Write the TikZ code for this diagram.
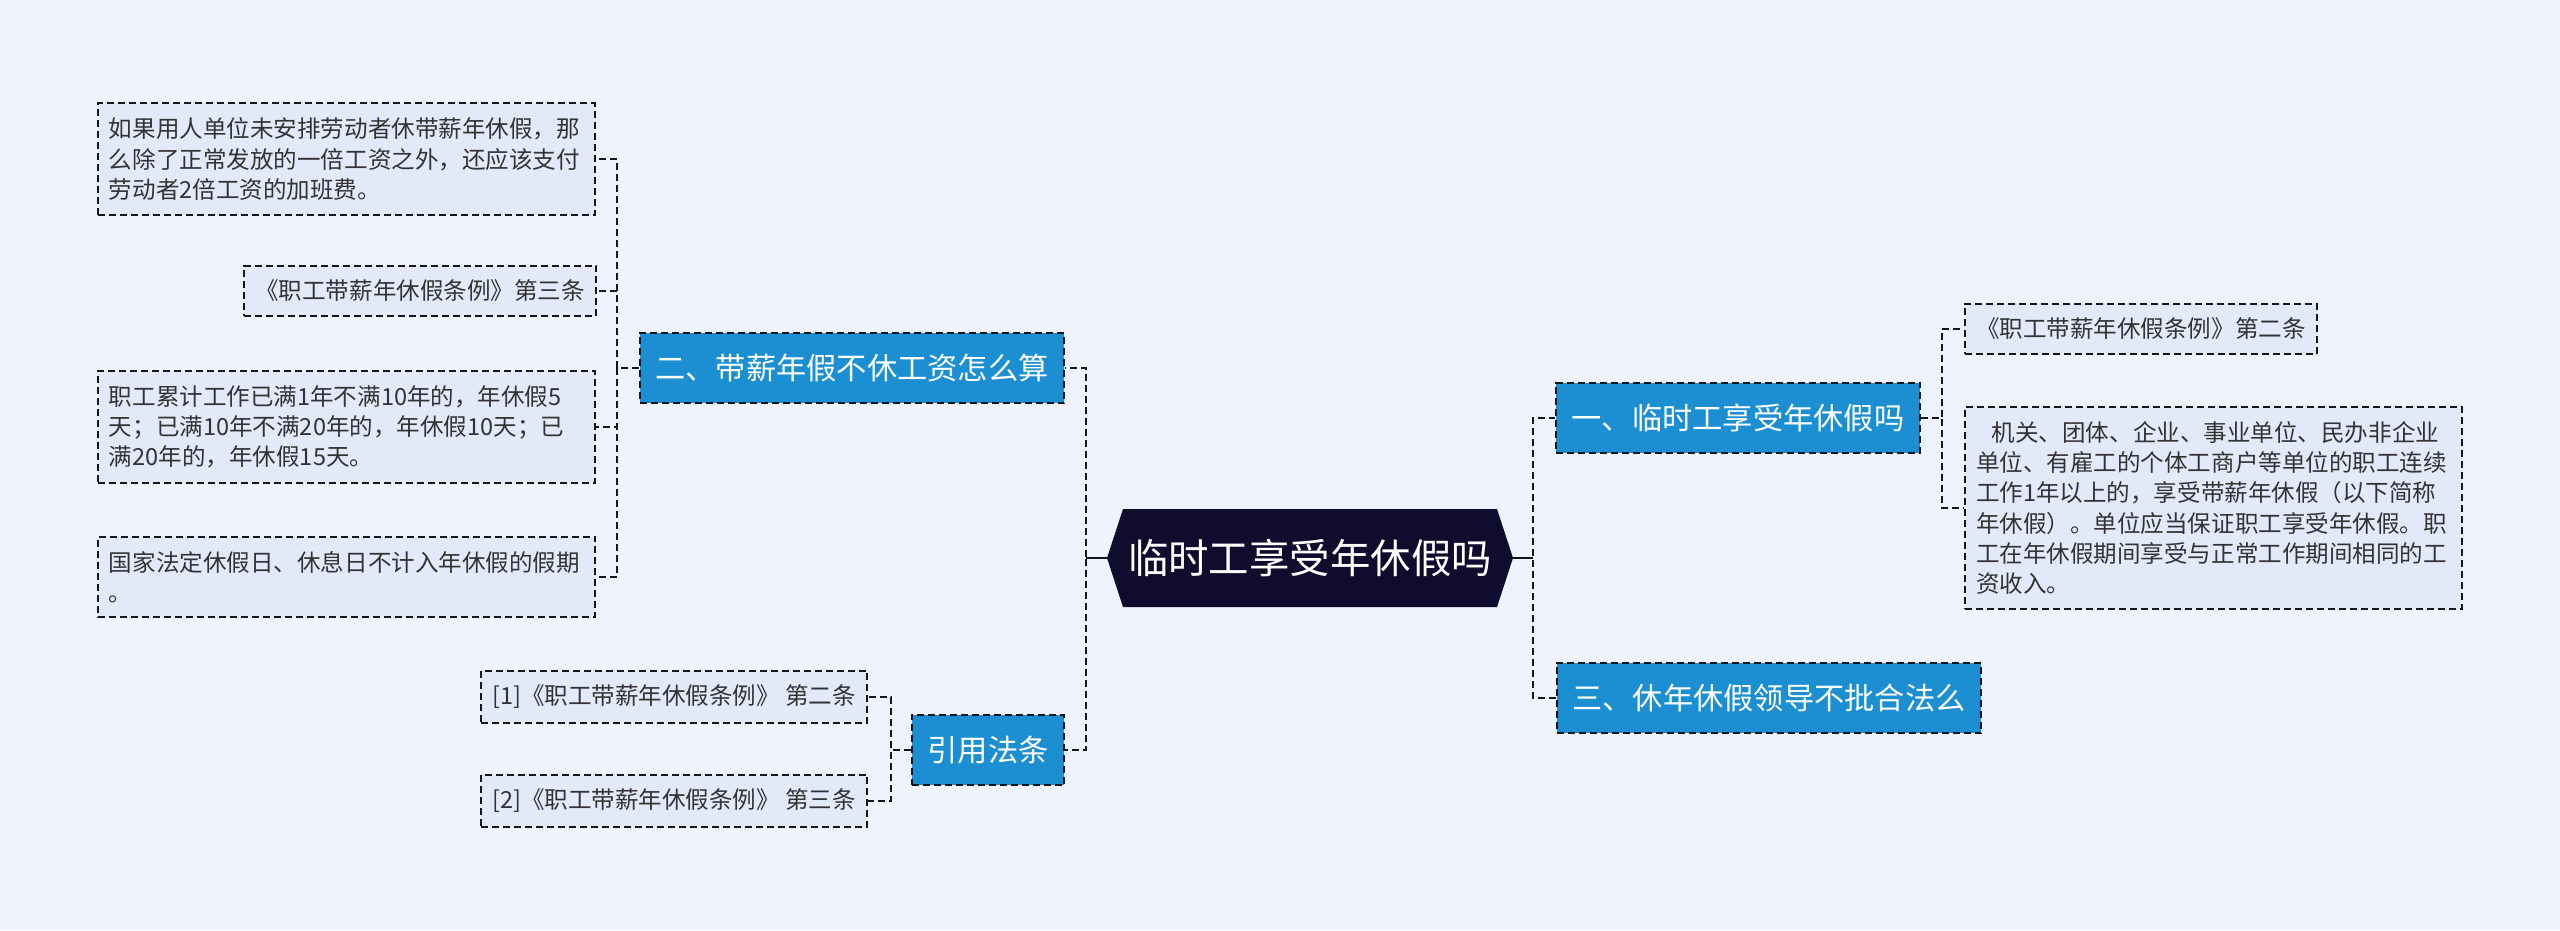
\documentclass[tikz,border=0pt]{standalone}
\usepackage{fontspec}
\setmainfont{Noto Sans CJK SC}

\definecolor{bgblue}{HTML}{EEF3FD}
\definecolor{leaffill}{HTML}{E2EAFA}
\definecolor{topicblue}{HTML}{1B8FD2}
\definecolor{rootnavy}{HTML}{0F0C2E}
\definecolor{linedark}{HTML}{15151C}

\begin{document}
\begin{tikzpicture}[
x=0.2mm, y=-0.2mm,
rootnode/.style={
  text=white, font=\fontsize{23}{28}\selectfont,
  minimum width=81.2mm, minimum height=19.6mm,
  path picture={
    \fill[rootnavy] (path picture bounding box.west)
      -- ([xshift=3.2mm]path picture bounding box.north west)
      -- ([xshift=-3.2mm]path picture bounding box.north east)
      -- (path picture bounding box.east)
      -- ([xshift=-3.2mm]path picture bounding box.south east)
      -- ([xshift=3.2mm]path picture bounding box.south west) -- cycle;
    }
  },
topic/.style={
  fill=topicblue, draw=linedark, line width=0.4mm,
  dash pattern=on 1.4mm off 0.8mm, text=white,
  font=\fontsize{17.2}{21}\selectfont,
  minimum height=14mm, inner xsep=3.2mm, inner ysep=0pt
  },
leaf/.style={
  fill=leaffill, draw=linedark, line width=0.4mm,
  dash pattern=on 1.4mm off 0.8mm, text=black!80,
  font=\fontsize{13.4}{17.2}\selectfont,
  align=left, inner xsep=2.2mm, inner ysep=2.9mm
  },
wideleaf/.style={leaf, text width=95mm},
link/.style={draw=linedark, line width=0.4mm, dash pattern=on 1.4mm off 0.8mm}
]
\fill[bgblue] (0,0) rectangle (2560,930);
\useasboundingbox (0,0) rectangle (2560,930);

\node[rootnode] (root) at (1310,558) {临时工享受年休假吗};

\node[topic] (b2) at (852,368) {二、带薪年假不休工资怎么算};
\node[topic] (ref) at (988,750) {引用法条};
\node[topic] (b1) at (1738,418) {一、临时工享受年休假吗};
\node[topic] (b3) at (1769,698) {三、休年休假领导不批合法么};

\node[wideleaf,anchor=east] (l1) at (596,159)
  {如果用人单位未安排劳动者休带薪年休假，那\\么除了正常发放的一倍工资之外，还应该支付\\劳动者2倍工资的加班费。};
\node[leaf,anchor=east] (l2) at (597,291) {《职工带薪年休假条例》第三条};
\node[wideleaf,anchor=east] (l3) at (596,427)
  {职工累计工作已满1年不满10年的，年休假5\\天；已满10年不满20年的，年休假10天；已\\满20年的，年休假15天。};
\node[wideleaf,anchor=east] (l4) at (596,577)
  {国家法定休假日、休息日不计入年休假的假期\\。};

\node[leaf,anchor=east] (c1) at (868,697) {[1]《职工带薪年休假条例》 第二条};
\node[leaf,anchor=east] (c2) at (868,801) {[2]《职工带薪年休假条例》 第三条};

\node[leaf,anchor=west] (r1) at (1964,329) {《职工带薪年休假条例》第二条};
\node[wideleaf,anchor=north west] (r2) at (1964,406)
  {\ \ 机关、团体、企业、事业单位、民办非企业\\单位、有雇工的个体工商户等单位的职工连续\\工作1年以上的，享受带薪年休假（以下简称\\年休假）。单位应当保证职工享受年休假。职\\工在年休假期间享受与正常工作期间相同的工\\资收入。};

% root to topics
\draw[link,solid] (root.west) -- ++(-21,0);
\draw[link,solid] (root.east) -- ++(20,0);
\foreach \t in {b2,ref}
  \draw[link] (root.west) -- ++(-21,0) |- (\t.east);
\foreach \t in {b1,b3}
  \draw[link] (root.east) -- ++(20,0) |- (\t.west);

% topics to leaves
\foreach \l in {l1,l2,l3,l4}
  \draw[link] (b2.west) -- ++(-22,0) |- (\l.east);
\foreach \l in {c1,c2}
  \draw[link] (ref.west) -- ++(-20,0) |- (\l.east);
\foreach \l in {r1,r2}
  \draw[link] (b1.east) -- ++(21,0) |- (\l.west);
\end{tikzpicture}
\end{document}
